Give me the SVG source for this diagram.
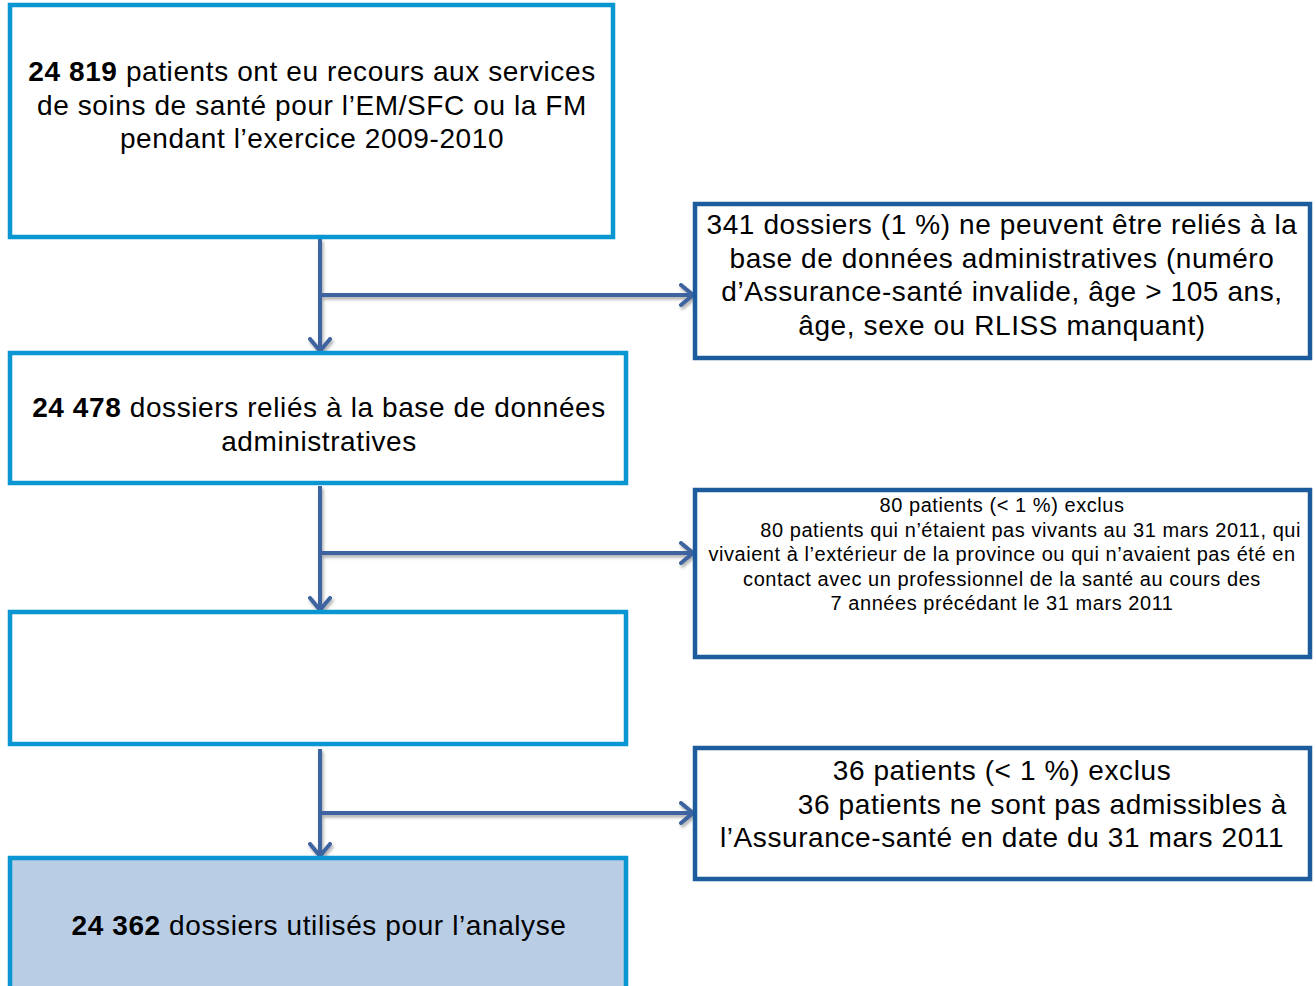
<svg xmlns="http://www.w3.org/2000/svg" width="1316" height="986" viewBox="0 0 1316 986">
<style>
.lb{fill:#fff;stroke:#0A95D3;stroke-width:4.5}
.rb{fill:#fff;stroke:#1C5B9C;stroke-width:4.5}
.t{font-family:"Liberation Sans",Arial,sans-serif;font-size:28px;letter-spacing:0.6px;fill:#000;text-anchor:middle}
.s{font-family:"Liberation Sans",Arial,sans-serif;font-size:20px;letter-spacing:0.55px;fill:#000;text-anchor:middle}
.b{font-weight:bold}
.c{stroke:#3D64A0;stroke-width:4;fill:none}
</style>
<defs>
<marker id="ah" viewBox="0 0 16 24" refX="14" refY="12" markerWidth="16" markerHeight="24" markerUnits="userSpaceOnUse" orient="auto">
<polyline points="2,2 14,12 2,22" fill="none" stroke="#3D64A0" stroke-width="4" stroke-linecap="round" stroke-linejoin="miter"/>
</marker>
<filter id="sh" x="-5%" y="-50%" width="110%" height="200%">
<feDropShadow dx="1.5" dy="2.5" stdDeviation="1.5" flood-color="#555" flood-opacity="0.5"/>
</filter>
</defs>
<g id="connectors" filter="url(#sh)">
<path class="c" d="M320,239 V351" marker-end="url(#ah)"/>
<path class="c" d="M322,295 H693" marker-end="url(#ah)"/>
<path class="c" d="M320,486 V610" marker-end="url(#ah)"/>
<path class="c" d="M322,553 H693" marker-end="url(#ah)"/>
<path class="c" d="M320,749 V856" marker-end="url(#ah)"/>
<path class="c" d="M322,813 H693" marker-end="url(#ah)"/>
</g>
<g id="n1">
<rect class="lb" x="10" y="5" width="603" height="232"/>
<text class="t" x="312" y="81"><tspan class="b">24 819</tspan> patients ont eu recours aux services</text>
<text class="t" x="312" y="115">de soins de santé pour l’EM/SFC ou la FM</text>
<text class="t" x="312" y="148">pendant l’exercice 2009-2010</text>
</g>
<g id="n2">
<rect class="rb" x="695" y="204" width="615" height="154"/>
<text class="t" x="1002" y="234">341 dossiers (1 %) ne peuvent être reliés à la</text>
<text class="t" x="1002" y="268">base de données administratives (numéro</text>
<text class="t" x="1002" y="301">d’Assurance-santé invalide, âge &gt; 105 ans,</text>
<text class="t" x="1002" y="335">âge, sexe ou RLISS manquant)</text>
</g>
<g id="n3">
<rect class="lb" x="10" y="353" width="616" height="130"/>
<text class="t" x="319" y="417"><tspan class="b">24 478</tspan> dossiers reliés à la base de données</text>
<text class="t" x="319" y="451">administratives</text>
</g>
<g id="n4">
<rect class="rb" x="695" y="490" width="615" height="167"/>
<text class="s" x="1002" y="512">80 patients (&lt; 1 %) exclus</text>
<text class="s" x="1301" y="537" style="text-anchor:end">80 patients qui n’étaient pas vivants au 31 mars 2011, qui</text>
<text class="s" x="1002" y="561">vivaient à l’extérieur de la province ou qui n’avaient pas été en</text>
<text class="s" x="1002" y="586">contact avec un professionnel de la santé au cours des</text>
<text class="s" x="1002" y="610">7 années précédant le 31 mars 2011</text>
</g>
<g id="n5">
<rect class="lb" x="10" y="612" width="616" height="132"/>
</g>
<g id="n6">
<rect class="rb" x="695" y="748" width="615" height="131"/>
<text class="t" x="1002" y="780">36 patients (&lt; 1 %) exclus</text>
<text class="t" x="1287" y="814" style="text-anchor:end">36 patients ne sont pas admissibles à</text>
<text class="t" x="1002" y="847">l’Assurance-santé en date du 31 mars 2011</text>
</g>
<g id="n7">
<rect x="10" y="858" width="616" height="140" fill="#B9CDE5" stroke="#0A95D3" stroke-width="4.5"/>
<text class="t" x="319" y="935"><tspan class="b">24 362</tspan> dossiers utilisés pour l’analyse</text>
</g>
</svg>
